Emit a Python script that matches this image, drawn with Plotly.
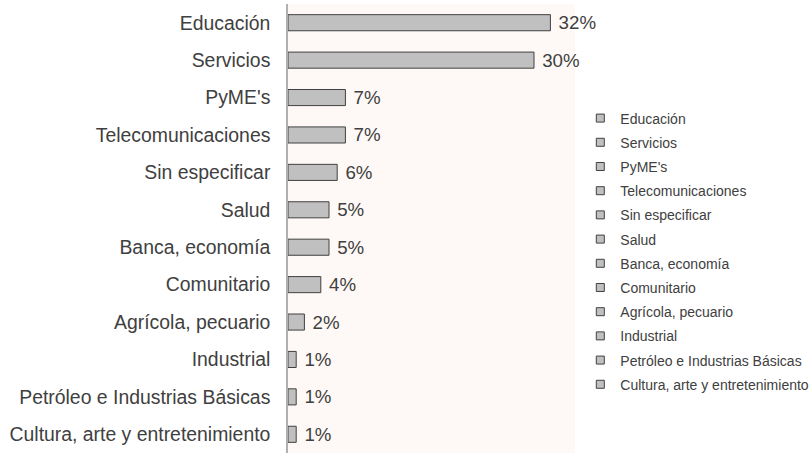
import plotly.graph_objects as go

categories = ["Educación", "Servicios", "PyME's", "Telecomunicaciones", "Sin especificar",
              "Salud", "Banca, economía", "Comunitario", "Agrícola, pecuario", "Industrial",
              "Petróleo e Industrias Básicas", "Cultura, arte y entretenimiento"]
values = [32, 30, 7, 7, 6, 5, 5, 4, 2, 1, 1, 1]

FONT = "Liberation Sans, Arial"
BAR_FILL = "#C0C0C0"
BAR_LINE = "#404040"

fig = go.Figure()
for cat, val in zip(categories, values):
    fig.add_trace(go.Bar(
        y=[cat], x=[val], orientation="h", name=cat, legendgroup=cat,
        showlegend=False,
        width=0.43,
        marker=dict(color=BAR_FILL, line=dict(color=BAR_LINE, width=1)),
        text=[f"\u00a0{val}%"], textposition="outside", cliponaxis=False,
        constraintext="none",
        textfont=dict(size=18.7, color="#404040", family=FONT),
        hoverinfo="x+y",
    ))
    # legend entry with a small square swatch (same category, no visible mark)
    fig.add_trace(go.Scatter(
        x=[None], y=[None], mode="markers", name=cat, legendgroup=cat,
        showlegend=True, hoverinfo="skip",
        marker=dict(symbol="square", size=8, color=BAR_FILL,
                    line=dict(color=BAR_LINE, width=1)),
    ))

fig.update_layout(
    width=812, height=453,
    barmode="overlay",
    margin=dict(l=288, r=237, t=4, b=0, autoexpand=False),
    paper_bgcolor="white",
    plot_bgcolor="#FEF9F6",
    font=dict(family=FONT, color="#404040"),
    xaxis=dict(range=[0, 35], visible=False, showgrid=False, zeroline=False),
    yaxis=dict(categoryorder="array", categoryarray=categories[::-1],
               showline=True, linecolor="#B0B0B0", linewidth=1.5,
               ticks="", ticklabelstandoff=12, automargin=False,
               tickfont=dict(size=19.4, color="#404040"), showgrid=False),
    legend=dict(x=1.0185, y=0.4488, xanchor="left", yanchor="middle",
                font=dict(size=14, color="#404040", family=FONT), bgcolor="rgba(0,0,0,0)",
                traceorder="grouped", itemwidth=30, tracegroupgap=3),
    showlegend=True,
)

fig.write_html("out.html", config={"displayModeBar": False},
               post_script="document.body.style.margin='0';")
